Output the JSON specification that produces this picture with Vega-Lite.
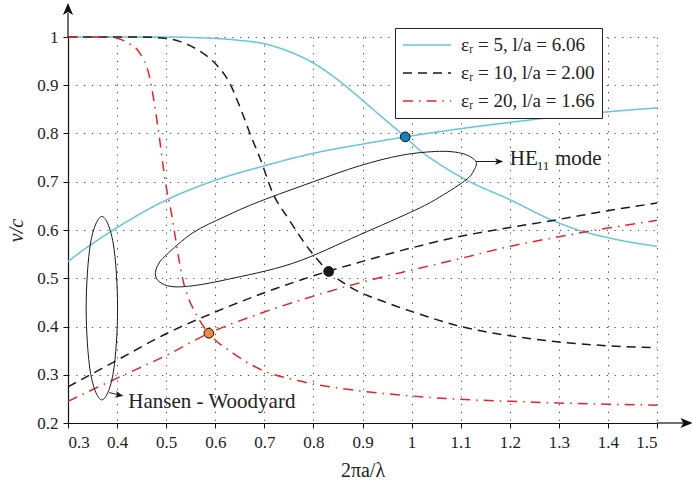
{
  "$schema": "https://vega.github.io/schema/vega-lite/v6.json",
  "width": 589,
  "height": 386,
  "autosize": {"type": "none"},
  "padding": {"left": 68, "top": 37, "right": 35, "bottom": 61},
  "background": "white",
  "datasets": {
    "curves": [
      {"s": "εᵣ = 5, l/a = 6.06", "b": "down", "x": 0.3, "y": 1.0},
      {"s": "εᵣ = 5, l/a = 6.06", "b": "down", "x": 0.4, "y": 1.0},
      {"s": "εᵣ = 5, l/a = 6.06", "b": "down", "x": 0.5, "y": 1.0},
      {"s": "εᵣ = 5, l/a = 6.06", "b": "down", "x": 0.55, "y": 0.999},
      {"s": "εᵣ = 5, l/a = 6.06", "b": "down", "x": 0.6, "y": 0.997},
      {"s": "εᵣ = 5, l/a = 6.06", "b": "down", "x": 0.65, "y": 0.993},
      {"s": "εᵣ = 5, l/a = 6.06", "b": "down", "x": 0.7, "y": 0.986},
      {"s": "εᵣ = 5, l/a = 6.06", "b": "down", "x": 0.75, "y": 0.97},
      {"s": "εᵣ = 5, l/a = 6.06", "b": "down", "x": 0.8, "y": 0.946},
      {"s": "εᵣ = 5, l/a = 6.06", "b": "down", "x": 0.85, "y": 0.911},
      {"s": "εᵣ = 5, l/a = 6.06", "b": "down", "x": 0.9, "y": 0.869},
      {"s": "εᵣ = 5, l/a = 6.06", "b": "down", "x": 0.934, "y": 0.839},
      {"s": "εᵣ = 5, l/a = 6.06", "b": "down", "x": 0.987, "y": 0.793},
      {"s": "εᵣ = 5, l/a = 6.06", "b": "down", "x": 1.023, "y": 0.76},
      {"s": "εᵣ = 5, l/a = 6.06", "b": "down", "x": 1.05, "y": 0.741},
      {"s": "εᵣ = 5, l/a = 6.06", "b": "down", "x": 1.111, "y": 0.704},
      {"s": "εᵣ = 5, l/a = 6.06", "b": "down", "x": 1.2, "y": 0.663},
      {"s": "εᵣ = 5, l/a = 6.06", "b": "down", "x": 1.287, "y": 0.62},
      {"s": "εᵣ = 5, l/a = 6.06", "b": "down", "x": 1.349, "y": 0.597},
      {"s": "εᵣ = 5, l/a = 6.06", "b": "down", "x": 1.4, "y": 0.584},
      {"s": "εᵣ = 5, l/a = 6.06", "b": "down", "x": 1.5, "y": 0.566},
      {"s": "εᵣ = 5, l/a = 6.06", "b": "up", "x": 0.3, "y": 0.535},
      {"s": "εᵣ = 5, l/a = 6.06", "b": "up", "x": 0.35, "y": 0.572},
      {"s": "εᵣ = 5, l/a = 6.06", "b": "up", "x": 0.4, "y": 0.605},
      {"s": "εᵣ = 5, l/a = 6.06", "b": "up", "x": 0.5, "y": 0.662},
      {"s": "εᵣ = 5, l/a = 6.06", "b": "up", "x": 0.6, "y": 0.703},
      {"s": "εᵣ = 5, l/a = 6.06", "b": "up", "x": 0.7, "y": 0.733},
      {"s": "εᵣ = 5, l/a = 6.06", "b": "up", "x": 0.8, "y": 0.759},
      {"s": "εᵣ = 5, l/a = 6.06", "b": "up", "x": 0.9, "y": 0.778},
      {"s": "εᵣ = 5, l/a = 6.06", "b": "up", "x": 0.987, "y": 0.793},
      {"s": "εᵣ = 5, l/a = 6.06", "b": "up", "x": 1.1, "y": 0.81},
      {"s": "εᵣ = 5, l/a = 6.06", "b": "up", "x": 1.2, "y": 0.823},
      {"s": "εᵣ = 5, l/a = 6.06", "b": "up", "x": 1.3, "y": 0.835},
      {"s": "εᵣ = 5, l/a = 6.06", "b": "up", "x": 1.4, "y": 0.845},
      {"s": "εᵣ = 5, l/a = 6.06", "b": "up", "x": 1.5, "y": 0.853},
      {"s": "εᵣ = 10, l/a = 2.00", "b": "down", "x": 0.3, "y": 1.0},
      {"s": "εᵣ = 10, l/a = 2.00", "b": "down", "x": 0.45, "y": 1.0},
      {"s": "εᵣ = 10, l/a = 2.00", "b": "down", "x": 0.5, "y": 0.997},
      {"s": "εᵣ = 10, l/a = 2.00", "b": "down", "x": 0.527, "y": 0.991},
      {"s": "εᵣ = 10, l/a = 2.00", "b": "down", "x": 0.568, "y": 0.971},
      {"s": "εᵣ = 10, l/a = 2.00", "b": "down", "x": 0.602, "y": 0.943},
      {"s": "εᵣ = 10, l/a = 2.00", "b": "down", "x": 0.629, "y": 0.905},
      {"s": "εᵣ = 10, l/a = 2.00", "b": "down", "x": 0.656, "y": 0.84},
      {"s": "εᵣ = 10, l/a = 2.00", "b": "down", "x": 0.673, "y": 0.794},
      {"s": "εᵣ = 10, l/a = 2.00", "b": "down", "x": 0.69, "y": 0.752},
      {"s": "εᵣ = 10, l/a = 2.00", "b": "down", "x": 0.717, "y": 0.677},
      {"s": "εᵣ = 10, l/a = 2.00", "b": "down", "x": 0.75, "y": 0.622},
      {"s": "εᵣ = 10, l/a = 2.00", "b": "down", "x": 0.792, "y": 0.559},
      {"s": "εᵣ = 10, l/a = 2.00", "b": "down", "x": 0.831, "y": 0.514},
      {"s": "εᵣ = 10, l/a = 2.00", "b": "down", "x": 0.873, "y": 0.483},
      {"s": "εᵣ = 10, l/a = 2.00", "b": "down", "x": 0.95, "y": 0.449},
      {"s": "εᵣ = 10, l/a = 2.00", "b": "down", "x": 1.009, "y": 0.428},
      {"s": "εᵣ = 10, l/a = 2.00", "b": "down", "x": 1.1, "y": 0.4},
      {"s": "εᵣ = 10, l/a = 2.00", "b": "down", "x": 1.213, "y": 0.379},
      {"s": "εᵣ = 10, l/a = 2.00", "b": "down", "x": 1.3, "y": 0.368},
      {"s": "εᵣ = 10, l/a = 2.00", "b": "down", "x": 1.4, "y": 0.36},
      {"s": "εᵣ = 10, l/a = 2.00", "b": "down", "x": 1.5, "y": 0.356},
      {"s": "εᵣ = 10, l/a = 2.00", "b": "up", "x": 0.3, "y": 0.275},
      {"s": "εᵣ = 10, l/a = 2.00", "b": "up", "x": 0.4, "y": 0.33},
      {"s": "εᵣ = 10, l/a = 2.00", "b": "up", "x": 0.5, "y": 0.385},
      {"s": "εᵣ = 10, l/a = 2.00", "b": "up", "x": 0.6, "y": 0.43},
      {"s": "εᵣ = 10, l/a = 2.00", "b": "up", "x": 0.7, "y": 0.47},
      {"s": "εᵣ = 10, l/a = 2.00", "b": "up", "x": 0.8, "y": 0.505},
      {"s": "εᵣ = 10, l/a = 2.00", "b": "up", "x": 0.9, "y": 0.535},
      {"s": "εᵣ = 10, l/a = 2.00", "b": "up", "x": 1.0, "y": 0.563},
      {"s": "εᵣ = 10, l/a = 2.00", "b": "up", "x": 1.1, "y": 0.587},
      {"s": "εᵣ = 10, l/a = 2.00", "b": "up", "x": 1.2, "y": 0.605},
      {"s": "εᵣ = 10, l/a = 2.00", "b": "up", "x": 1.3, "y": 0.622},
      {"s": "εᵣ = 10, l/a = 2.00", "b": "up", "x": 1.4, "y": 0.64},
      {"s": "εᵣ = 10, l/a = 2.00", "b": "up", "x": 1.5, "y": 0.656},
      {"s": "εᵣ = 20, l/a = 1.66", "b": "down", "x": 0.3, "y": 1.0},
      {"s": "εᵣ = 20, l/a = 1.66", "b": "down", "x": 0.38, "y": 1.0},
      {"s": "εᵣ = 20, l/a = 1.66", "b": "down", "x": 0.405, "y": 0.996},
      {"s": "εᵣ = 20, l/a = 1.66", "b": "down", "x": 0.425, "y": 0.986},
      {"s": "εᵣ = 20, l/a = 1.66", "b": "down", "x": 0.446, "y": 0.967},
      {"s": "εᵣ = 20, l/a = 1.66", "b": "down", "x": 0.466, "y": 0.918},
      {"s": "εᵣ = 20, l/a = 1.66", "b": "down", "x": 0.483, "y": 0.815},
      {"s": "εᵣ = 20, l/a = 1.66", "b": "down", "x": 0.5, "y": 0.69},
      {"s": "εᵣ = 20, l/a = 1.66", "b": "down", "x": 0.507, "y": 0.655},
      {"s": "εᵣ = 20, l/a = 1.66", "b": "down", "x": 0.534, "y": 0.497},
      {"s": "εᵣ = 20, l/a = 1.66", "b": "down", "x": 0.564, "y": 0.42},
      {"s": "εᵣ = 20, l/a = 1.66", "b": "down", "x": 0.587, "y": 0.386},
      {"s": "εᵣ = 20, l/a = 1.66", "b": "down", "x": 0.636, "y": 0.345},
      {"s": "εᵣ = 20, l/a = 1.66", "b": "down", "x": 0.69, "y": 0.312},
      {"s": "εᵣ = 20, l/a = 1.66", "b": "down", "x": 0.772, "y": 0.287},
      {"s": "εᵣ = 20, l/a = 1.66", "b": "down", "x": 0.9, "y": 0.266},
      {"s": "εᵣ = 20, l/a = 1.66", "b": "down", "x": 1.0, "y": 0.256},
      {"s": "εᵣ = 20, l/a = 1.66", "b": "down", "x": 1.1, "y": 0.249},
      {"s": "εᵣ = 20, l/a = 1.66", "b": "down", "x": 1.2, "y": 0.245},
      {"s": "εᵣ = 20, l/a = 1.66", "b": "down", "x": 1.3, "y": 0.2415},
      {"s": "εᵣ = 20, l/a = 1.66", "b": "down", "x": 1.4, "y": 0.239},
      {"s": "εᵣ = 20, l/a = 1.66", "b": "down", "x": 1.5, "y": 0.237},
      {"s": "εᵣ = 20, l/a = 1.66", "b": "up", "x": 0.3, "y": 0.245},
      {"s": "εᵣ = 20, l/a = 1.66", "b": "up", "x": 0.4, "y": 0.293},
      {"s": "εᵣ = 20, l/a = 1.66", "b": "up", "x": 0.5, "y": 0.34},
      {"s": "εᵣ = 20, l/a = 1.66", "b": "up", "x": 0.587, "y": 0.386},
      {"s": "εᵣ = 20, l/a = 1.66", "b": "up", "x": 0.7, "y": 0.43},
      {"s": "εᵣ = 20, l/a = 1.66", "b": "up", "x": 0.8, "y": 0.463},
      {"s": "εᵣ = 20, l/a = 1.66", "b": "up", "x": 0.9, "y": 0.492},
      {"s": "εᵣ = 20, l/a = 1.66", "b": "up", "x": 1.0, "y": 0.517},
      {"s": "εᵣ = 20, l/a = 1.66", "b": "up", "x": 1.1, "y": 0.541},
      {"s": "εᵣ = 20, l/a = 1.66", "b": "up", "x": 1.2, "y": 0.566},
      {"s": "εᵣ = 20, l/a = 1.66", "b": "up", "x": 1.3, "y": 0.586},
      {"s": "εᵣ = 20, l/a = 1.66", "b": "up", "x": 1.4, "y": 0.604},
      {"s": "εᵣ = 20, l/a = 1.66", "b": "up", "x": 1.5, "y": 0.62}
    ],
    "dots": [
      {"s": "εᵣ = 5, l/a = 6.06", "x": 0.987, "y": 0.793},
      {"s": "εᵣ = 10, l/a = 2.00", "x": 0.831, "y": 0.514},
      {"s": "εᵣ = 20, l/a = 1.66", "x": 0.587, "y": 0.386}
    ],
    "ellipses": [
      {"e": "he", "i": 1, "x": 0.478, "y": 0.507},
      {"e": "he", "i": 2, "x": 0.483, "y": 0.527},
      {"e": "he", "i": 3, "x": 0.5, "y": 0.548},
      {"e": "he", "i": 4, "x": 0.554, "y": 0.594},
      {"e": "he", "i": 5, "x": 0.62, "y": 0.628},
      {"e": "he", "i": 6, "x": 0.69, "y": 0.659},
      {"e": "he", "i": 7, "x": 0.8, "y": 0.7},
      {"e": "he", "i": 8, "x": 0.894, "y": 0.733},
      {"e": "he", "i": 9, "x": 0.98, "y": 0.755},
      {"e": "he", "i": 10, "x": 1.057, "y": 0.763},
      {"e": "he", "i": 11, "x": 1.105, "y": 0.758},
      {"e": "he", "i": 12, "x": 1.131, "y": 0.742},
      {"e": "he", "i": 13, "x": 1.126, "y": 0.722},
      {"e": "he", "i": 14, "x": 1.111, "y": 0.704},
      {"e": "he", "i": 15, "x": 1.06, "y": 0.67},
      {"e": "he", "i": 16, "x": 1.009, "y": 0.642},
      {"e": "he", "i": 17, "x": 0.894, "y": 0.59},
      {"e": "he", "i": 18, "x": 0.758, "y": 0.531},
      {"e": "he", "i": 19, "x": 0.622, "y": 0.497},
      {"e": "he", "i": 20, "x": 0.55, "y": 0.484},
      {"e": "he", "i": 21, "x": 0.51, "y": 0.483},
      {"e": "he", "i": 22, "x": 0.487, "y": 0.492},
      {"e": "hw", "i": 1, "x": 0.369, "y": 0.628},
      {"e": "hw", "i": 2, "x": 0.392, "y": 0.573},
      {"e": "hw", "i": 3, "x": 0.401, "y": 0.438},
      {"e": "hw", "i": 4, "x": 0.392, "y": 0.303},
      {"e": "hw", "i": 5, "x": 0.369, "y": 0.248},
      {"e": "hw", "i": 6, "x": 0.346, "y": 0.303},
      {"e": "hw", "i": 7, "x": 0.337, "y": 0.438},
      {"e": "hw", "i": 8, "x": 0.346, "y": 0.573}
    ],
    "axisExt": [
      {"x": 0.3, "y": 1.0, "x2": 0.3, "y2": 1.05},
      {"x": 1.5, "y": 0.2, "x2": 1.555, "y2": 0.2}
    ],
    "annArrows": [
      {"x": 1.131, "y": 0.742, "x2": 1.178, "y2": 0.742},
      {"x": 0.384, "y": 0.263, "x2": 0.405, "y2": 0.258}
    ],
    "texts": [
      {"t": "Hansen - Woodyard", "x": 0.423, "y": 0.2305},
      {"t": "HE", "x": 1.2, "y": 0.735},
      {"t": "mode", "x": 1.292, "y": 0.735}
    ],
    "subs": [
      {"t": "11", "x": 1.255, "y": 0.724}
    ]
  },
  "layer": [
    {
      "data": {"name": "curves"},
      "mark": {"type": "line", "interpolate": "monotone", "strokeWidth": 1.5},
      "encoding": {
        "x": {
          "field": "x", "type": "quantitative",
          "scale": {"domain": [0.3, 1.5], "nice": false, "zero": false},
          "axis": {
            "values": [0.3, 0.4, 0.5, 0.6, 0.7, 0.8, 0.9, 1, 1.1, 1.2, 1.3, 1.4, 1.5],
            "format": "~g", "title": "2πa/λ", "titlePadding": 10, "labelPadding": 6, "grid": true
          }
        },
        "y": {
          "field": "y", "type": "quantitative",
          "scale": {"domain": [0.2, 1.0], "nice": false, "zero": false},
          "axis": {
            "values": [0.2, 0.3, 0.4, 0.5, 0.6, 0.7, 0.8, 0.9, 1],
            "format": "~g", "title": "v/c", "titleFontStyle": "italic", "titlePadding": 10, "labelPadding": 5, "grid": true
          }
        },
        "color": {
          "field": "s", "type": "nominal",
          "scale": {"domain": ["εᵣ = 5, l/a = 6.06", "εᵣ = 10, l/a = 2.00", "εᵣ = 20, l/a = 1.66"], "range": ["#63C6DA", "#1a1a1a", "#E8232B"]},
          "legend": {
            "title": null, "orient": "none", "legendX": 327, "legendY": -9,
            "strokeColor": "#222", "fillColor": "white", "padding": 7, "cornerRadius": 0,
            "symbolType": "M-2.667,0H2.667", "symbolSize": 324, "symbolStrokeWidth": 1.5, "symbolOffset": 15,
            "labelFont": "Liberation Serif", "labelFontSize": 19, "labelColor": "#222",
            "rowPadding": 8, "labelOffset": 24, "labelLimit": 400
          }
        },
        "strokeDash": {
          "field": "s", "type": "nominal",
          "scale": {"domain": ["εᵣ = 5, l/a = 6.06", "εᵣ = 10, l/a = 2.00", "εᵣ = 20, l/a = 1.66"], "range": [[1, 0], [9, 6], [10, 6, 1.5, 6]]},
          "legend": {
            "title": null, "orient": "none", "legendX": 327, "legendY": -9,
            "strokeColor": "#222", "fillColor": "white", "padding": 7, "cornerRadius": 0,
            "symbolType": "M-2.667,0H2.667", "symbolSize": 324, "symbolStrokeWidth": 1.5, "symbolOffset": 15,
            "labelFont": "Liberation Serif", "labelFontSize": 19, "labelColor": "#222",
            "rowPadding": 8, "labelOffset": 24, "labelLimit": 400
          }
        },
        "detail": {"field": "b"}
      }
    },
    {
      "data": {"name": "ellipses"},
      "mark": {"type": "line", "interpolate": "cardinal-closed", "stroke": "#1a1a1a", "strokeWidth": 1},
      "encoding": {
        "x": {"field": "x", "type": "quantitative"},
        "y": {"field": "y", "type": "quantitative"},
        "detail": {"field": "e"},
        "order": {"field": "i", "type": "quantitative"}
      }
    },
    {
      "data": {"name": "axisExt"},
      "mark": {"type": "rule", "stroke": "#111", "strokeWidth": 1.2},
      "encoding": {
        "x": {"field": "x", "type": "quantitative"},
        "y": {"field": "y", "type": "quantitative"},
        "x2": {"field": "x2"},
        "y2": {"field": "y2"}
      }
    },
    {
      "data": {"name": "annArrows"},
      "mark": {"type": "rule", "stroke": "#1a1a1a", "strokeWidth": 1},
      "encoding": {
        "x": {"field": "x", "type": "quantitative"},
        "y": {"field": "y", "type": "quantitative"},
        "x2": {"field": "x2"},
        "y2": {"field": "y2"}
      }
    },
    {
      "data": {"values": [{"x": 0.3, "y": 1.058}]},
      "mark": {"type": "point", "shape": "M0,-1L0.85,1L0,0.5L-0.85,1Z", "size": 144, "filled": true, "fill": "#111", "opacity": 1},
      "encoding": {
        "x": {"field": "x", "type": "quantitative"},
        "y": {"field": "y", "type": "quantitative"}
      }
    },
    {
      "data": {"values": [{"x": 1.56, "y": 0.2}]},
      "mark": {"type": "point", "shape": "M1,0L-1,0.85L-0.5,0L-1,-0.85Z", "size": 144, "filled": true, "fill": "#111", "opacity": 1},
      "encoding": {
        "x": {"field": "x", "type": "quantitative"},
        "y": {"field": "y", "type": "quantitative"}
      }
    },
    {
      "data": {"values": [{"x": 1.1785, "y": 0.742}]},
      "mark": {"type": "point", "shape": "M1,0L-1,0.8L-0.5,0L-1,-0.8Z", "size": 70, "filled": true, "fill": "#1a1a1a", "opacity": 1},
      "encoding": {
        "x": {"field": "x", "type": "quantitative"},
        "y": {"field": "y", "type": "quantitative"}
      }
    },
    {
      "data": {"values": [{"x": 0.4047, "y": 0.2578}]},
      "mark": {"type": "point", "shape": "M1,0L-1,0.8L-0.5,0L-1,-0.8Z", "size": 70, "angle": 13, "filled": true, "fill": "#1a1a1a", "opacity": 1},
      "encoding": {
        "x": {"field": "x", "type": "quantitative"},
        "y": {"field": "y", "type": "quantitative"}
      }
    },
    {
      "data": {"name": "dots"},
      "mark": {"type": "point", "filled": true, "size": 95, "stroke": "#111", "strokeWidth": 1, "opacity": 1},
      "encoding": {
        "x": {"field": "x", "type": "quantitative"},
        "y": {"field": "y", "type": "quantitative"},
        "fill": {
          "field": "s", "type": "nominal", "legend": null,
          "scale": {"domain": ["εᵣ = 5, l/a = 6.06", "εᵣ = 10, l/a = 2.00", "εᵣ = 20, l/a = 1.66"], "range": ["#1C7CC2", "#1a1a1a", "#F08A3A"]}
        }
      }
    },
    {
      "data": {"name": "texts"},
      "mark": {"type": "text", "font": "Liberation Serif", "fontSize": 21, "align": "left", "baseline": "alphabetic", "color": "#222"},
      "encoding": {
        "x": {"field": "x", "type": "quantitative"},
        "y": {"field": "y", "type": "quantitative"},
        "text": {"field": "t"}
      }
    },
    {
      "data": {"name": "subs"},
      "mark": {"type": "text", "font": "Liberation Serif", "fontSize": 13, "align": "left", "baseline": "alphabetic", "color": "#222"},
      "encoding": {
        "x": {"field": "x", "type": "quantitative"},
        "y": {"field": "y", "type": "quantitative"},
        "text": {"field": "t"}
      }
    }
  ],
  "config": {
    "font": "Liberation Serif",
    "view": {"stroke": null},
    "axis": {
      "labelFont": "Liberation Serif", "labelFontSize": 17, "labelColor": "#222",
      "titleFont": "Liberation Serif", "titleFontSize": 20, "titleFontWeight": "normal", "titleColor": "#222",
      "domainColor": "#111", "domainWidth": 1.2, "tickColor": "#111", "tickSize": 5, "tickWidth": 1,
      "gridColor": "#444", "gridDash": [1.2, 6.6], "gridWidth": 1
    }
  }
}
